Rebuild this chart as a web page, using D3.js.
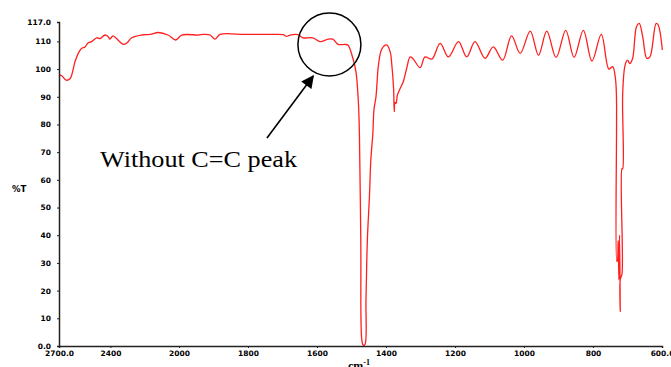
<!DOCTYPE html>
<html>
<head>
<meta charset="utf-8">
<script src="https://cdn.jsdelivr.net/npm/d3@7"></script>
<style>
  body { margin: 0; background: #fff; }
  svg { display: block; }
  .tick-label { font-family: "DejaVu Sans", sans-serif; font-weight: bold; font-size: 7.5px; fill: #000; }
</style>
</head>
<body>
<div id="chart"></div>
<script>
(function (d3) {
    'use strict';

    // spectrum (cm-1 vs %T)
    var wavenumbers = [2700, 2682, 2659, 2636, 2607, 2589, 2568, 2548, 2531, 2508, 2480, 2461, 2432, 2414, 2403, 2385,
        2356, 2325, 2303, 2276, 2218, 2169, 2121, 2064, 2019, 1992, 1944, 1930, 1910, 1896, 1881, 1809, 1736, 1698,
        1688, 1678, 1655, 1641, 1612, 1591, 1568, 1554, 1539, 1519, 1510, 1496, 1487, 1480, 1477, 1473, 1470, 1466,
        1461, 1458, 1454, 1448, 1444, 1438, 1435, 1429, 1426, 1422, 1412, 1398, 1388, 1383, 1378, 1376, 1374, 1371,
        1367, 1359, 1350, 1340, 1330, 1322, 1301, 1287, 1267, 1243, 1219, 1190, 1166, 1142, 1113, 1089, 1062, 1036,
        1011, 982, 958, 934, 907, 879, 855, 828, 803, 776, 754, 743, 735, 732, 731, 729, 727, 725, 723, 721, 721,
        716, 716, 714, 714, 707, 700, 693, 685, 674, 666, 656, 644, 635, 617, 611, 599];
    var transmittance = [98, 97.5, 96, 96.5, 102.6, 105.5, 107.5, 108, 109.4, 110, 111.3, 111, 112.3, 111.8, 110.8, 112,
        110.5, 108.9, 109.5, 111.3, 112.3, 112.5, 113.2, 112.3, 110.5, 112.3, 112.3, 112.5, 112.3, 110.8, 112.5, 112.5, 112.5, 112.4,
        111.8, 112.3, 112.4, 111.3, 111.3, 109.9, 110.8, 110.8, 108.9, 108.9, 108.6, 103.9, 99, 88, 76, 37, 2, 0.3,
        0.5, 16.6, 38.3, 54, 67.1, 76.9, 85.2, 90, 95, 101.3, 107.3, 108.7, 106.3, 101.4, 93, 84.6, 88, 87.6,
        90.6, 93, 95.4, 100.3, 104.4, 103.8, 100.5, 104.4, 103.6, 109.3, 104.4, 109.9, 104.4, 109.9, 103.9, 108, 103.2, 112,
        105.7, 113.7, 105, 113.7, 104.2, 114, 104.2, 114, 102.9, 112.5, 100, 100.9, 96.6, 90, 30.5, 31, 38, 24, 40, 12.4, 24,
        26, 64, 64, 91, 101.4, 103.2, 102, 103.9, 115.3, 116.5, 111.7, 103.9, 104.4, 116.5, 115.9, 106.9];

    var xTicks = [2700, 2400, 2000, 1800, 1600, 1400, 1200, 1000, 800, 600];
    var yTicks = [0, 10, 20, 30, 40, 50, 60, 70, 80, 90, 100, 110, 117];

    var width = 671, height = 367;

    var svg = d3.select('#chart').append('svg')
        .attr('width', width)
        .attr('height', height);

    // the wavenumber axis is compressed above 2000 cm-1
    var x = d3.scaleLinear().domain([2700, 2000, 600]).range([59, 179, 662]);
    var y = d3.scaleLinear().domain([0, 117]).range([346, 22]);

    var points = wavenumbers.map(function (w, i) { return [w, transmittance[i]]; });

    var line = d3.line()
        .curve(d3.curveCatmullRom.alpha(0.5))
        .x(function (d) { return x(d[0]); })
        .y(function (d) { return y(d[1]); });

    svg.append('path')
        .datum(points)
        .attr('d', line)
        .attr('fill', 'none')
        .attr('stroke', '#ff1f1f')
        .attr('stroke-width', 1.3)
        .attr('stroke-linejoin', 'round');

    var fmt = function (v, i, arr) {
        return (i === 0 || i === arr.length - 1) ? d3.format('.1f')(v) : String(v);
    };

    var xAxis = svg.append('g')
        .attr('transform', 'translate(0,' + y(0) + ')')
        .call(d3.axisBottom(x).tickValues(xTicks).tickSize(2).tickPadding(3)
            .tickFormat(function (v, i) { return fmt(v, i, xTicks); }));

    var yAxis = svg.append('g')
        .attr('transform', 'translate(' + x(2700) + ',0)')
        .call(d3.axisLeft(y).tickValues(yTicks).tickSize(2).tickPadding(6)
            .tickFormat(function (v, i) { return fmt(v, i, yTicks); }));

    [xAxis, yAxis].forEach(function (g) {
        g.select('.domain').attr('stroke', '#222').attr('stroke-width', 1.5);
        g.selectAll('.tick line').attr('stroke', '#222');
        g.selectAll('.tick text').attr('class', 'tick-label').attr('font-family', null).attr('font-size', null);
    });

    svg.append('text')
        .attr('class', 'tick-label')
        .attr('x', 12)
        .attr('y', 192)
        .style('font-size', '8.5px')
        .text('%T');

    // unit label sits partly below the bottom edge, as in the original
    var unit = svg.append('text')
        .attr('x', 348)
        .attr('y', 370)
        .attr('font-family', '"Liberation Serif", serif')
        .attr('font-size', 12)
        .attr('font-weight', 'bold')
        .text('cm');
    unit.append('tspan').attr('dy', -5).attr('font-size', 8).text('-1');

    // annotation: circle round the missing C=C band, arrow and label
    svg.append('circle')
        .attr('cx', x(1564))
        .attr('cy', y(108.9))
        .attr('r', 31.5)
        .attr('fill', 'none')
        .attr('stroke', '#000')
        .attr('stroke-width', 1.5);

    svg.append('defs').append('marker')
        .attr('id', 'head')
        .attr('viewBox', '0 0 10 10')
        .attr('refX', 9).attr('refY', 5)
        .attr('markerWidth', 9).attr('markerHeight', 8)
        .attr('markerUnits', 'strokeWidth')
        .attr('orient', 'auto')
        .append('path').attr('d', 'M0,0 L10,5 L0,10 z').attr('fill', '#000');

    svg.append('line')
        .attr('x1', x(1745)).attr('y1', y(75.1))
        .attr('x2', x(1611)).attr('y2', y(97.5))
        .attr('stroke', '#000')
        .attr('stroke-width', 1.6)
        .attr('marker-end', 'url(#head)');

    svg.append('text')
        .attr('x', 100)
        .attr('y', 167)
        .attr('font-family', '"Liberation Serif", "Times New Roman", serif')
        .attr('font-size', 23)
        .attr('textLength', 197)
        .attr('lengthAdjust', 'spacingAndGlyphs')
        .text('Without C=C peak');
})(d3);
</script>
</body>
</html>
